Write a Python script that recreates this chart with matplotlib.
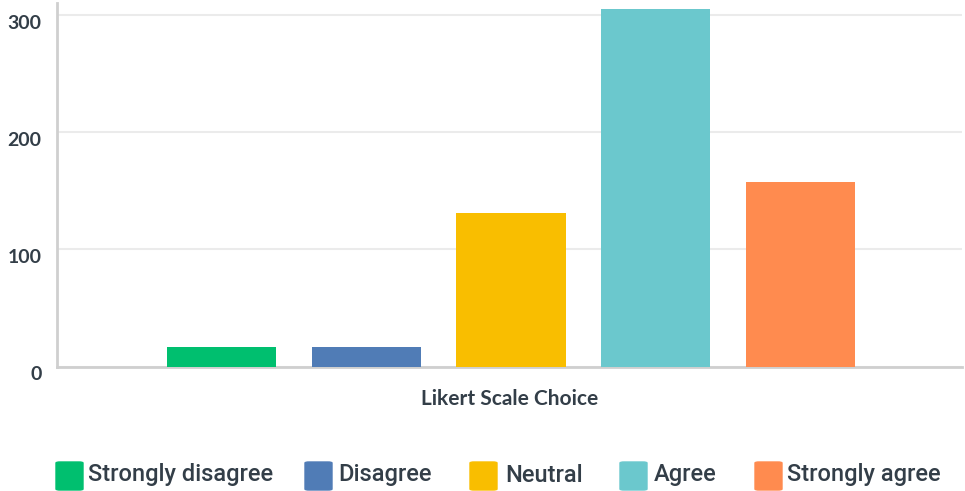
import matplotlib
matplotlib.use('Agg')
import matplotlib.pyplot as plt
from matplotlib.patches import FancyBboxPatch
from matplotlib import font_manager

# data
choices = ['Strongly disagree', 'Disagree', 'Neutral', 'Agree', 'Strongly agree']
counts = [17, 17, 131, 305, 157]
colors = ['#00bf6f', '#507cb6', '#f9be00', '#6bc8cd', '#ff8b4f']
yticks = [0, 100, 200, 300]

txt = '#333e48'
names = {f.name for f in font_manager.fontManager.ttflist}
narrow = 'Liberation Sans Narrow' if 'Liberation Sans Narrow' in names else 'Roboto'

fig = plt.figure(figsize=(9.65, 4.91), dpi=100)
ax = fig.add_axes([57/965, 1 - 366.5/491, (962 - 57)/965, (366.5 - 3)/491])

x = list(range(len(choices)))
ax.bar(x, counts, width=0.755, color=colors, zorder=3)

ax.set_xlim(-1.14, 5.12)
ax.set_ylim(0, 310)
ax.set_yticks(yticks)
ax.set_yticklabels([str(t) for t in yticks], fontsize=14, color=txt,
                   fontfamily='Lato', fontweight='bold')
for lab in ax.get_yticklabels():
    lab.set_va('top')
ax.tick_params(axis='y', length=0, pad=11)
ax.set_xticks([])
ax.grid(axis='y', color='#ebebeb', linewidth=1.5, zorder=0)

for s in ['top', 'right']:
    ax.spines[s].set_visible(False)
for s in ['left', 'bottom']:
    ax.spines[s].set_color('#cfcfcf')
    ax.spines[s].set_linewidth(2)

ax.set_xlabel('Likert Scale Choice', fontsize=15, color=txt, fontfamily='Lato',
              fontweight='bold', labelpad=16)

# legend row, drawn by hand
patch_x = [56, 305, 470, 620, 755]
text_x = [88, 338, 505, 654, 787]
for px, tx, name, c in zip(patch_x, text_x, choices, colors):
    fig.patches.append(FancyBboxPatch((px/965, 1 - 490/491), 27/965, 28/491,
                                      boxstyle='round,pad=0,rounding_size=0.004',
                                      transform=fig.transFigure, color=c,
                                      mutation_aspect=491/965))
    fig.text(tx/965, 1 - 475/491, name, fontsize=17, color=txt,
             fontfamily=narrow, fontweight='medium', va='center', ha='left')

fig.savefig('out.png', dpi=100, facecolor='white')
